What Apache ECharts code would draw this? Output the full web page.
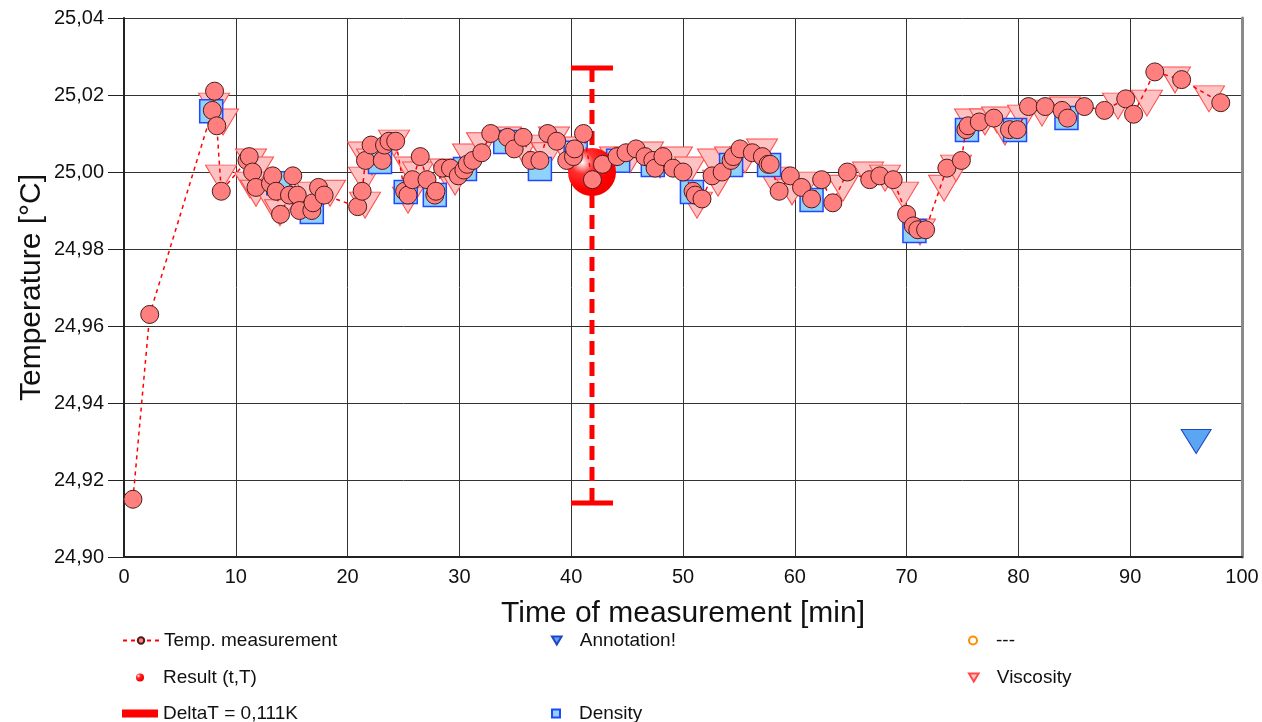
<!DOCTYPE html>
<html>
<head>
<meta charset="utf-8">
<script src="https://cdn.jsdelivr.net/npm/echarts@6/dist/echarts.min.js"></script>
<style>html,body{margin:0;padding:0;background:#fff}#main{width:1262px;height:722px}</style>
</head>
<body>
<div id="main"></div>
<script>
// temperature measurement (time in min, T in °C)
var tempTime = [0.8, 2.3, 7.9, 8.1, 8.3, 8.7, 11.0, 11.2, 11.5, 11.8, 13.1, 13.3, 13.6, 14.0, 14.8, 15.1, 15.5, 15.7, 16.8, 16.9,
  17.4, 17.9, 20.9, 21.3, 21.6, 22.1, 23.1, 23.3, 23.7, 24.3, 25.1, 25.4, 25.8, 26.5, 27.1, 27.8, 27.9, 28.5, 29.2, 29.9,
  30.4, 30.7, 31.2, 32.0, 32.8, 34.3, 34.9, 35.7, 36.4, 37.2, 37.9, 38.7, 39.6, 40.2, 40.3, 41.1, 41.9, 42.8, 44.1, 44.9,
  45.8, 46.6, 47.3, 47.5, 48.2, 49.1, 50.0, 50.9, 51.1, 51.7, 52.6, 53.5, 54.3, 54.5, 55.1, 56.2, 57.1, 57.6, 57.8, 58.6,
  59.6, 60.6, 61.5, 62.4, 63.4, 64.7, 66.7, 67.6, 68.8, 70.0, 70.6, 71.0, 71.7, 73.6, 74.9, 75.3, 75.5, 76.5, 77.8, 79.2,
  79.9, 80.9, 82.4, 83.9, 84.4, 85.9, 87.7, 89.6, 90.3, 92.2, 94.6, 98.1];
var tempValue = [24.915, 24.963, 25.016, 25.021, 25.012, 24.995, 25.003, 25.004, 25.000, 24.996, 24.997, 24.999, 24.995, 24.989, 24.994, 24.999, 24.994, 24.990, 24.990, 24.992,
  24.996, 24.994, 24.991, 24.995, 25.003, 25.007, 25.003, 25.007, 25.008, 25.008, 24.995, 24.994, 24.998, 25.004, 24.998, 24.994, 24.995, 25.001, 25.001, 24.999,
  25.0005, 25.002, 25.003, 25.005, 25.010, 25.009, 25.006, 25.009, 25.003, 25.003, 25.010, 25.008, 25.003, 25.004, 25.006, 25.010, 24.998, 25.002, 25.004, 25.005,
  25.006, 25.004, 25.003, 25.001, 25.004, 25.001, 25.000, 24.995, 24.994, 24.993, 24.999, 25.000, 25.003, 25.004, 25.006, 25.005, 25.004, 25.002, 25.002, 24.995,
  24.999, 24.996, 24.993, 24.998, 24.992, 25.000, 24.998, 24.999, 24.998, 24.989, 24.986, 24.985, 24.985, 25.001, 25.003, 25.011, 25.012, 25.013, 25.014, 25.011,
  25.011, 25.017, 25.017, 25.016, 25.014, 25.017, 25.016, 25.019, 25.015, 25.026, 25.024, 25.018];

// density
var densTime = [7.8, 13.8, 16.8, 22.9, 25.2, 27.8, 30.5, 34.1, 37.2, 40.4, 44.2, 47.3, 50.8, 54.3, 57.7, 61.5, 70.7, 75.4, 79.7, 84.3];
var densValue = [25.0158, 24.9971, 24.9896, 25.0026, 24.9948, 24.9940, 25.0008, 25.0078, 25.0008, 25.0050,
  25.0029, 25.0018, 24.9948, 25.0018, 25.0018, 24.9927, 24.9847, 25.0109, 25.0109, 25.0140];

// viscosity
var viscTime = [8.05, 8.86, 8.68, 11.36, 11.99, 11.27, 11.81, 13.24, 13.95, 16.82, 18.43, 21.38, 21.47, 21.56, 22.18, 24.15,
  25.58, 25.40, 26.30, 28.71, 29.61, 30.77, 32.02, 34.17, 35.69, 37.39, 38.46, 37.84, 39.45, 43.92, 45.26, 46.87,
  47.94, 49.46, 50.63, 51.25, 52.68, 53.13, 54.20, 55.55, 57.07, 58.05, 59.75, 60.91, 64.31, 66.55, 68.07, 69.68,
  71.20, 73.35, 74.42, 75.67, 77.01, 78.09, 78.80, 80.41, 82.11, 84.17, 88.91, 91.50, 94.01, 97.05];
var viscValue = [25.0171, 25.0130, 24.9984, 25.0026, 25.0005, 24.9966, 24.9945, 24.9919, 24.9894, 24.9940, 24.9945, 25.0044, 24.9979, 24.9914, 25.0026, 25.0075,
  25.0005, 24.9927, 24.9992, 25.0000, 24.9974, 25.0039, 25.0068, 25.0083, 25.0057, 25.0062, 25.0083, 25.0042, 25.0057, 25.0031, 25.0031, 25.0044,
  25.0018, 25.0031, 25.0005, 24.9914, 25.0026, 24.9971, 25.0031, 25.0031, 25.0052, 24.9979, 24.9948, 24.9966, 24.9958, 24.9992, 24.9984, 24.9940,
  24.9844, 24.9958, 25.0010, 25.0130, 25.0130, 25.0135, 25.0104, 25.0140, 25.0153, 25.0161, 25.0171, 25.0179, 25.0239, 25.0190];

// result point and its error bar (t, T low, T high)
var resultPoint = [41.86, 25.000];
var deltaBar = [41.86, 24.914, 25.027];
var annotationPoint = [95.9, 24.930];

var xTicks = [0, 100, 10];       // min, max, interval
var yTicks = [24.90, 25.04, 0.02];

function pairs(a, b) {
  return a.map(function (v, i) { return [v, b[i]]; });
}

var fontName = '"Liberation Sans", Arial, sans-serif';
var chart = echarts.init(document.getElementById('main'));

var triDown = 'path://M0,0L12,0L6,10Z';

// one legend component per entry, so nothing wraps
function legendItem(item, left, top) {
  return {
    orient: 'vertical', left: left, top: top, padding: 0,
    itemWidth: 36, itemHeight: 8, selectedMode: false,
    textStyle: { fontSize: 19, color: '#111', fontFamily: fontName, lineHeight: 18 },
    data: [item]
  };
}

var option = {
  animation: false,
  backgroundColor: '#fff',
  grid: { left: 124, right: 20, top: 18, bottom: 165 },
  legend: [
    legendItem('Temp. measurement', 122, 631),
    legendItem({ name: 'Result (t,T)', icon: 'circle' }, 136, 668),
    legendItem({ name: 'DeltaT = 0,111K', icon: 'rect', itemStyle: { color: '#ff0000' } }, 122, 704),
    legendItem({ name: 'Annotation!', icon: triDown }, 551, 631),
    legendItem({ name: 'Density', icon: 'path://M0,0L10,0L10,10L0,10Z' }, 551, 704),
    legendItem({ name: '---', icon: 'circle' }, 968, 631),
    legendItem({ name: 'Viscosity', icon: triDown }, 968, 668)
  ],
  xAxis: {
    type: 'value', min: xTicks[0], max: xTicks[1], interval: xTicks[2],
    name: 'Time of measurement [min]', nameLocation: 'middle', nameGap: 42,
    nameTextStyle: { fontSize: 30, color: '#111', fontFamily: fontName },
    axisLine: { onZero: false, lineStyle: { color: '#222', width: 2 } },
    axisTick: { show: false },
    axisLabel: { fontSize: 20, color: '#111', fontFamily: fontName, margin: 10 },
    splitLine: { lineStyle: { color: '#333', width: 1 } }
  },
  yAxis: [
    {
      type: 'value', min: yTicks[0], max: yTicks[1], interval: yTicks[2],
      name: 'Temperature [°C]', nameLocation: 'middle', nameGap: 77, nameMoveOverlap: false,
      nameTextStyle: { fontSize: 30, color: '#111', fontFamily: fontName },
      axisLine: { onZero: false, lineStyle: { color: '#222', width: 2 } },
      axisTick: { show: true, length: 16, lineStyle: { color: '#222' } },
      axisLabel: {
        fontSize: 20, color: '#111', fontFamily: fontName, margin: 20,
        formatter: function (v) { return v.toFixed(2).replace('.', ','); }
      },
      splitLine: { lineStyle: { color: '#333', width: 1 } }
    },
    {
      type: 'value', position: 'right', min: yTicks[0], max: yTicks[1],
      axisLine: { show: true, onZero: false, lineStyle: { color: '#8a8a8a', width: 3 } },
      axisTick: { show: false }, axisLabel: { show: false }, splitLine: { show: false }
    }
  ],
  series: [
    {
      name: 'Viscosity', type: 'scatter', z: 2,
      data: pairs(viscTime, viscValue),
      symbol: 'triangle', symbolRotate: 180, symbolSize: [31, 26],
      itemStyle: { color: '#ffc2c2', borderColor: '#ff4a4a', borderWidth: 1, opacity: 1 }
    },
    {
      name: 'Density', type: 'scatter', z: 3,
      data: pairs(densTime, densValue),
      symbol: 'rect', symbolSize: 23,
      itemStyle: { color: '#8fd2fc', borderColor: '#1f48ff', borderWidth: 1.5, opacity: 1 }
    },
    {
      name: 'DeltaT = 0,111K', type: 'custom', z: 4,
      data: [deltaBar],
      encode: { x: 0, y: [1, 2] },
      renderItem: function (params, api) {
        var top = api.coord([api.value(0), api.value(2)]);
        var bot = api.coord([api.value(0), api.value(1)]);
        var red = { stroke: '#ff0000', lineWidth: 5 };
        return {
          type: 'group',
          children: [
            { type: 'line', shape: { x1: top[0], y1: top[1], x2: bot[0], y2: bot[1] },
              style: { stroke: '#ff0000', lineWidth: 5, lineDash: [14, 7] } },
            { type: 'line', shape: { x1: top[0] - 21, y1: top[1], x2: top[0] + 21, y2: top[1] }, style: red },
            { type: 'line', shape: { x1: bot[0] - 21, y1: bot[1], x2: bot[0] + 21, y2: bot[1] }, style: red }
          ]
        };
      }
    },
    {
      name: 'Result (t,T)', type: 'scatter', z: 5,
      data: [resultPoint],
      symbol: 'circle', symbolSize: 48,
      itemStyle: {
        opacity: 1,
        color: {
          type: 'radial', x: 0.3, y: 0.3, r: 0.8,
          colorStops: [
            { offset: 0, color: '#ffffff' },
            { offset: 0.3, color: '#ff3030' },
            { offset: 0.7, color: '#ff0000' },
            { offset: 1, color: '#f00000' }
          ]
        }
      }
    },
    {
      name: 'Temp. measurement', type: 'line', z: 6,
      data: pairs(tempTime, tempValue),
      showAllSymbol: true,
      symbol: 'circle', symbolSize: 18,
      lineStyle: { color: '#ff0000', width: 1.5, type: [4, 4] },
      itemStyle: { color: '#ff7f7f', borderColor: '#4a1c1c', borderWidth: 1, opacity: 1 }
    },
    {
      name: 'Annotation!', type: 'scatter', z: 6,
      data: [annotationPoint],
      symbol: 'triangle', symbolRotate: 180, symbolSize: [30, 24],
      itemStyle: { color: '#5aa6f2', borderColor: '#2046c8', borderWidth: 1, opacity: 1 }
    },
    {
      name: '---', type: 'scatter', z: 6,
      data: [],
      itemStyle: { color: '#ffffff', borderColor: '#ff8c00', borderWidth: 2, opacity: 1 }
    }
  ]
};

chart.setOption(option);
</script>
</body>
</html>
